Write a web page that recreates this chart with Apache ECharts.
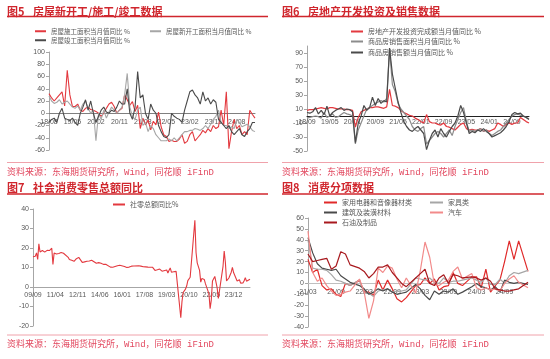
<!DOCTYPE html>
<html><head><meta charset="utf-8">
<script src="https://cdn.jsdelivr.net/npm/echarts@6/dist/echarts.min.js"></script>
<style>html,body{margin:0;padding:0;background:#fff;}#c{width:550px;height:359px;}</style>
</head><body><div id="c"></div>
<script>
// ---------- category helpers ----------
function months(y, m, n) {
  const out = [];
  for (let k = 0; k < n; k++) {
    const yy = y + Math.floor((m - 1 + k) / 12);
    const mm = (m - 1 + k) % 12 + 1;
    out.push(String(yy % 100).padStart(2, '0') + '/' + String(mm).padStart(2, '0'));
  }
  return out;
}
// ---------- Chart 5 data (2018/08 - 2025/03) ----------
const cat5 = months(2018, 8, 80);
const names5 = ['房屋施工面积当月值同比 %', '房屋新开工面积当月值同比 %', '房屋竣工面积当月值同比 %'];
const shigong5 = [32,25,20,25,30,35,12,70,30,11, 11,15,5,3,8,10,6,5,3,0, -5,0,8,15,18,11,0,5,8,30,
  22,13,19,3,13,-25,-8,-19,-11,-27, -13,-19,2,-22,-35,-38,-46,-44,-46,-46, -42,-35,-49,-46,-35,-30,-45,-40,-35,-28,
  -32,-25,-30,-20,-25,-22,5,-20,35,-58, -30,-10,-25,-20,-35,-30,-35,5,-2,-8];
const xinkaigong5 = [28,20,16,18,22,15,18,20,15,10, 8,12,5,15,20,8,0,5,-45,0, -10,5,-8,2,10,5,0,5,10,30,
  65,10,-5,-10,5,10,-20,-15,-30,-20, -25,-35,-40,-45,-45,-45,-42,-45,-40,-45, -40,-35,-30,-30,-28,-28,-25,-26,-28,-25,
  -20,-25,-18,-10,-5,5,-15,-20,-20,-25, -22,-25,-10,-15,-22,-20,-18,-22,-28,-30];
const jungong5 = [-15,-10,-8,-15,0,8,-8,-10,-12,-8, -15,-20,0,10,22,5,20,0,-15,-5, 5,10,2,0,5,3,10,20,15,15,
  40,0,-10,10,68,25,30,0,-10,15, 5,0,-20,-30,-38,-40,-35,0,-5,-8, -10,-15,5,20,35,38,30,25,15,35,
  20,25,15,22,18,-10,-15,-20,-25,-20, -30,-35,-30,-25,-35,-38,-30,-25,-15,-15];
// ---------- Chart 6 data (2018/09 - 2025/03) ----------
const cat6 = months(2018, 9, 79);
const names6 = ['房地产开发投资完成额当月值同比 %', '商品房销售面积当月值同比 %', '商品房销售额当月值同比 %'];
const touzi6 = [8,9,9,10,11,12,11,10,12,12, 11,10,10,10,9,9,8,-16,-2,6, 8,10,12,12,13,13,12,11,13,38,
  15,14,12,8,5,3,1,0,-3,-5, -8,-10,2,-8,-10,-10,-12,-13,-10,-15, -16,-18,-20,-16,-12,-10,-18,-20,-19,-20,
  -20,-18,-22,-20,-22,-20,-18,-10,-12,-15, -12,-10,-12,-10,-10,-2,-5,-8,-10];
const mianji6 = [-3,-2,-1,0,-1,-3,5,-2,0,3, -2,-1,2,5,3,2,0,-40,-20,-10, 0,10,12,15,18,20,22,20,25,95,
  45,35,18,10,5,0,-5,-15,-20,-22, -18,-15,-40,-35,-30,-25,-22,-25,-30,-25, -20,-28,-15,-5,5,12,-8,-22,-20,-22,
  -20,-18,-22,-20,-25,-28,-25,-22,-20,-15, -10,-5,0,2,3,1,0,-2,-4];
const jine6 = [5,4,6,12,3,8,2,14,0,5, 8,10,12,8,10,9,6,-38,-10,0, 15,8,12,27,15,25,18,22,20,97,
  60,40,20,5,-8,-15,-20,-22,-18,-15, -20,-25,-48,-35,-25,-20,-30,-18,-25,-30, -22,-15,-10,0,15,5,-10,-25,-22,-24,
  -20,-22,-18,-22,-25,-30,-28,-26,-24,-20, -15,-8,2,5,3,4,0,-2,-5];
// ---------- Chart 7 data (2009/09 - 2025/02) ----------
const cat7 = months(2009, 9, 186);
const name7 = '社零总额同比%';
const retail7 = [15.5,16.2,15.8,17.5,
  14.1,22.1,18.0,18.5,18.7,18.3,17.9,18.4,18.8,18.6,18.7,19.1,
  19.9,11.6,17.4,17.1,16.9,17.7,17.2,17.0,17.7,17.2,17.3,18.1,
  null,null,15.2,14.1,13.8,13.7,13.1,13.2,14.2,14.5,14.9,15.2,
  null,null,12.6,12.8,12.9,13.3,13.2,13.4,13.3,13.3,13.7,13.6,
  null,null,12.2,11.9,12.5,12.4,12.2,11.9,11.6,11.5,11.7,11.9,
  null,null,10.2,10.0,10.1,10.6,10.5,10.8,10.9,11.0,11.2,11.1,
  null,null,10.5,10.1,10.0,10.6,10.2,10.6,10.7,10.0,10.8,10.9,
  null,null,10.9,10.7,10.7,11.0,10.4,10.1,10.3,10.0,10.2,9.4,
  null,null,10.1,9.4,8.5,9.0,8.8,9.0,9.2,8.6,8.1,8.2,
  null,null,8.7,7.2,8.6,9.8,7.6,7.5,7.8,7.2,8.0,8.0,
  null,null,-15.8,-7.5,-2.8,-1.8,-1.1,0.5,3.3,4.3,5.0,4.6,
  null,null,34.2,17.7,12.4,12.1,8.5,2.5,4.4,4.9,3.9,1.7,
  null,null,-3.5,-11.1,-6.7,3.1,2.7,5.4,2.5,-0.5,-5.9,-1.8,
  null,null,10.6,18.4,12.7,3.1,2.5,4.6,5.5,7.6,10.1,7.4,
  null,null,3.1,2.3,3.7,2.0,2.7,2.1,3.2,4.8,3.0,3.7,
  null,4.0];
// ---------- Chart 8 data (2021/03 - 2025/02) ----------
const cat8 = months(2021, 3, 48);
const names8 = ['家用电器和音像器材类', '家具类', '建筑及装潢材料', '汽车', '石油及制品'];
const jiadian8 = [22,10,13,-2,-6,-5,-10,-12,0,-2, null,3,-8,-8,-11,3,-6,3,-5,-14, -17,-13,null,-2,-1,5,0,4,-6,-3,
  -2,10,0,-2,null,6,6,-4,13,-8, -2,3,20,39,22,39,null,11];
const jiaju8 = [40,14,13,13,12,8,3,2,0,-2, null,3,-9,-9,-12,-7,-6,-5,-8,-7, -7,-6,null,5,4,3,5,1,0,5,
  1,2,2,3,null,5,3,1,5,-1, -1,4,0,7,10,9,null,12];
const jiancai8 = [42,28,18,14,13,12,13,7,4,1, null,-2,-5,-10,-8,-5,-7,-5,-8,-10, -9,-8,null,-1,-5,-11,-15,-7,-10,-7,
  -8,-5,-10,-8,null,-3,0,-3,-4,-6, -3,-8,3,1,0,1,null,-1];
const qiche8 = [48,10,2,5,-2,-7,-11,-10,-8,-7, null,4,-8,-32,-16,14,10,16,14,4, -4,5,null,-9,12,38,24,-1,-2,1,
  3,11,15,4,null,9,-4,-6,-4,-6, -5,-7,0,4,7,1,null,-4];
const shiyou8 = [27,20,21,22,23,13,16,29,27,17, null,14,11,5,9,15,15,17,10,5, 0,-3,null,5,9,13,0,-2,5,8,
  0,8,7,5,null,6,5,3,5,2, -5,-6,-7,-7,-6,-5,null,1];

// ---------- styling ----------
const TITLE_C = '#d0262d', FOOT_C = '#e2475e', RULE2 = '#f0a2ab';
const LBL = {color: '#595959', fontSize: 7, fontFamily: '"Liberation Sans", Arial, sans-serif'};
const CJK = '"Noto Sans CJK SC", sans-serif';

// x axis placed at the zero level of its y axis (offset up from the grid bottom)
function xAx(gi, data, interval, margin, lineColor, zeroOffset) {
  return {type: 'category', gridIndex: gi, data: data, boundaryGap: false, position: 'bottom',
    offset: -zeroOffset,
    axisLine: {onZero: false, lineStyle: {color: lineColor, width: 1}},
    axisTick: {show: false},
    axisLabel: Object.assign({}, LBL, {interval: interval, margin: margin}),
    splitLine: {show: false}};
}
function yAx(gi, min, max, interval, hideMax) {
  return {type: 'value', gridIndex: gi, min: min, max: max, interval: interval,
    axisLine: {show: true, lineStyle: {color: '#a6a6a6'}},
    axisTick: {show: true, length: 3, lineStyle: {color: '#a6a6a6'}},
    axisLabel: Object.assign({}, LBL, {margin: 4, showMaxLabel: !hideMax}),
    splitLine: {show: false}};
}
function ln(name, data, color, idx, w) {
  return {type: 'line', name: name, data: data, xAxisIndex: idx, yAxisIndex: idx,
    symbol: 'none', connectNulls: true, lineStyle: {color: color, width: w || 1},
    itemStyle: {color: color}, emphasis: {disabled: true}, z: 2};
}
function leg(name, left, cy, w, fs) {
  return {data: [name], left: left, top: cy - 4, itemWidth: w, itemHeight: 2, icon: 'rect',
    padding: 0, itemGap: 0, selectedMode: false,
    textStyle: {fontSize: fs, color: '#595959', fontFamily: CJK}};
}
function panel(x0, x1, ty, r1, r2, fy, num, text) {
  return [
    {type: 'text', x: x0, y: ty, style: {text: '图' + num, font: 'bold 11px ' + CJK, fill: TITLE_C, verticalAlign: 'middle'}},
    {type: 'text', x: x0 + 26, y: ty, style: {text: text, font: 'bold 11px ' + CJK, fill: TITLE_C, verticalAlign: 'middle'}},
    {type: 'line', shape: {x1: x0, y1: r1, x2: x1, y2: r1}, style: {stroke: TITLE_C, lineWidth: 1.5}},
    {type: 'line', shape: {x1: x0, y1: r2, x2: x1, y2: r2}, style: {stroke: RULE2, lineWidth: 1}},
    {type: 'text', x: x0, y: fy, style: {text: '资料来源：东海期货研究所，Wind，同花顺 iFinD',
      font: '9px "Liberation Mono", ' + CJK, fill: FOOT_C, verticalAlign: 'middle'}}
  ];
}

const G = [
  {left: 49, top: 52, width: 206, height: 98, min: -60, max: 100},
  {left: 307, top: 46, width: 222, height: 105, min: -50, max: 100},
  {left: 33, top: 209, width: 217, height: 117, min: -20, max: 40},
  {left: 308, top: 218, width: 220, height: 109, min: -40, max: 60}
];
function zeroOff(g) { return g.height * (0 - g.min) / (g.max - g.min); }

const chart = echarts.init(document.getElementById('c'), null, {renderer: 'canvas'});
chart.setOption({
  animation: false,
  backgroundColor: '#fff',
  grid: G.map(g => ({left: g.left, top: g.top, width: g.width, height: g.height})),
  xAxis: [
    xAx(0, cat5, 8, 5, '#7f7f7f', zeroOff(G[0])),
    xAx(1, cat6, 7, 3, '#222', zeroOff(G[1])),
    xAx(2, cat7, 18, 5, '#a6a6a6', zeroOff(G[2])),
    xAx(3, cat8, 5, 5, '#bfbfbf', zeroOff(G[3]))
  ],
  yAxis: [
    yAx(0, G[0].min, G[0].max, 20),
    yAx(1, G[1].min, G[1].max, 20, true),
    yAx(2, G[2].min, G[2].max, 10),
    yAx(3, G[3].min, G[3].max, 10)
  ],
  legend: [
    leg(names5[0], 35, 32, 11, 6.5),
    leg(names5[1], 150, 32, 11, 6.5),
    leg(names5[2], 35, 41, 11, 6.5),
    leg(names6[0], 351, 32, 12, 7),
    leg(names6[1], 351, 42, 12, 7),
    leg(names6[2], 351, 53, 12, 7),
    leg(name7, 113, 205, 12, 7),
    leg(names8[0], 324, 203, 13, 7),
    leg(names8[1], 430, 203, 13, 7),
    leg(names8[2], 324, 213, 13, 7),
    leg(names8[3], 430, 213, 13, 7),
    leg(names8[4], 324, 223, 13, 7)
  ],
  series: [
    ln(names5[0], shigong5, '#e3393f', 0, 1.1),
    ln(names5[1], xinkaigong5, '#a6a6a6', 0, 1.1),
    ln(names5[2], jungong5, '#4a4a4a', 0, 1.1),
    ln(names6[0], touzi6, '#e3393f', 1, 1.2),
    ln(names6[1], mianji6, '#8c8c8c', 1, 1.2),
    ln(names6[2], jine6, '#4a4a4a', 1, 1.2),
    ln(name7, retail7, '#e3393f', 2, 1.1),
    ln(names8[0], jiadian8, '#e02a2a', 3, 1.2),
    ln(names8[1], jiaju8, '#a6a6a6', 3, 1.2),
    ln(names8[2], jiancai8, '#4a4a4a', 3, 1.2),
    ln(names8[3], qiche8, '#f28a8a', 3, 1.2),
    ln(names8[4], shiyou8, '#a8191e', 3, 1.2)
  ],
  graphic: [].concat(
    panel(7, 268, 12, 16.5, 162.5, 173, '5', '房屋新开工/施工/竣工数据'),
    panel(282, 544, 12, 16.5, 162.5, 173, '6', '房地产开发投资及销售数据'),
    panel(7, 268, 188, 194, 335, 345, '7', '社会消费零售总额同比'),
    panel(282, 544, 188, 194, 335, 345, '8', '消费分项数据')
  )
});
</script></body></html>
